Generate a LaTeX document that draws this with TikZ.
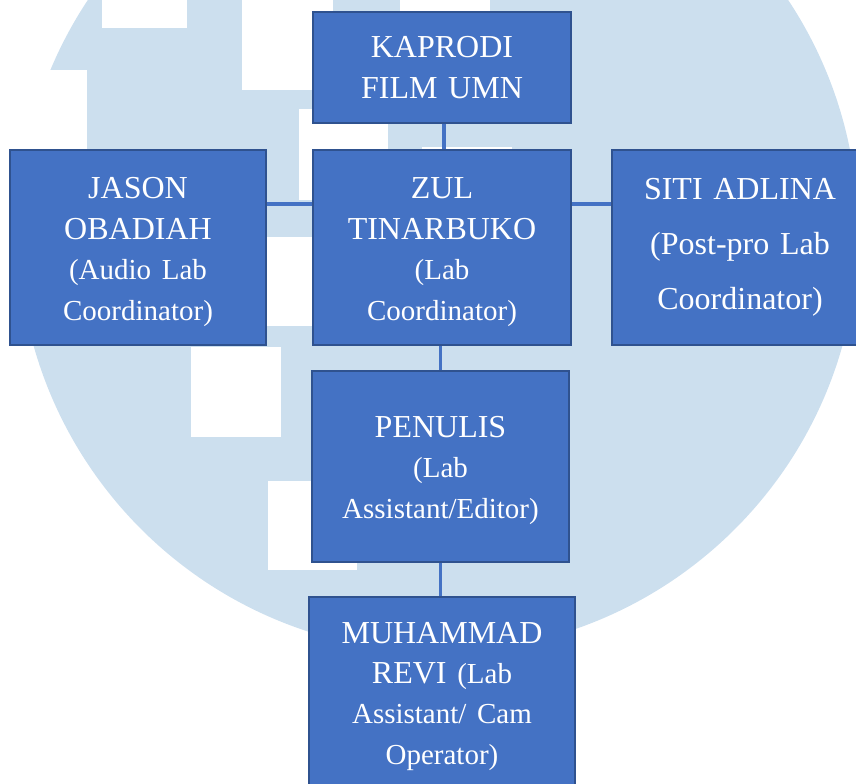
\documentclass[tikz,border=0pt]{standalone}
\usepackage{fontspec}
\setmainfont{Liberation Serif}
\usepackage{tikz}
\definecolor{mBoxBlue}{HTML}{4472C4}
\definecolor{mBoxEdge}{HTML}{2F528F}
\definecolor{mLogoBlue}{HTML}{CCDFEE}
\newcommand{\rolefont}{\fontsize{14.5}{20}\selectfont}
\newcommand{\toppad}{\rule{0pt}{14.6pt}}

\begin{document}
\begin{tikzpicture}[x=0.5pt, y=-0.5pt,
      post/.style={rectangle, draw=mBoxEdge, line width=0.8pt, fill=mBoxBlue,
                   text=white, align=center, text width=118pt, inner sep=0pt,
                   font=\fontsize{16}{20.5}\selectfont},
      link/.style={mBoxBlue, line width=1.6pt}]
    \useasboundingbox (0,0) rectangle (856,783);
    \clip (0,0) rectangle (856,783);

    % faded logo behind the chart
    \fill[mLogoBlue] (438,232) circle[radius=210pt];
    \fill[white] (102,-60) rectangle (187,28);
    \fill[white] (242,-1) rectangle (333,90);
    \fill[white] (400,-80) rectangle (490,11);
    \fill[white] (299,109) rectangle (388,200);
    \fill[white] (422,147) rectangle (512,237);
    \fill[white] (-10,70) rectangle (87,160);
    \fill[white] (262,237) rectangle (352,326);
    \fill[white] (191,347) rectangle (281,437);
    \fill[white] (268,481) rectangle (357,570);

    \node[post, minimum width=129pt, minimum height=55.5pt] (kaprodi) at (442,67.5)
      {KAPRODI\\FILM UMN};
    \node[post, minimum width=129pt, minimum height=97.5pt] (zul) at (442,247.5)
      {\toppad ZUL\\TINARBUKO\\{\rolefont (Lab\\Coordinator)}};
    \node[post, minimum width=128pt, minimum height=97.5pt] (jason) at (138,247.5)
      {\toppad JASON\\OBADIAH\\{\rolefont (Audio Lab\\Coordinator)}};
    \node[post, minimum width=128pt, minimum height=97.5pt,
          font=\fontsize{16}{27.5}\selectfont] (siti) at (740,247.5)
      {SITI ADLINA\\(Post-pro Lab\\Coordinator)};
    \node[post, minimum width=128.5pt, minimum height=95.5pt] (penulis) at (440.5,466.5)
      {\toppad PENULIS\\{\rolefont (Lab\\Assistant/Editor)}};
    \node[post, minimum width=133pt, minimum height=95.5pt] (muhammad) at (442,692.5)
      {\toppad MUHAMMAD\\REVI {\rolefont (Lab\\Assistant/ Cam\\Operator)}};

    \draw[link] ([xshift=1pt]kaprodi.south) -- ([xshift=1pt]zul.north);
    \draw[link] ([yshift=21.75pt]jason.east) -- ([yshift=21.75pt]zul.west);
    \draw[link] ([yshift=21.75pt]zul.east) -- ([yshift=21.75pt]siti.west);
    \draw[link] (penulis.north |- zul.south) -- (penulis.north);
    \draw[link] (penulis.south) -- (penulis.south |- muhammad.north);
  \end{tikzpicture}
\end{document}
